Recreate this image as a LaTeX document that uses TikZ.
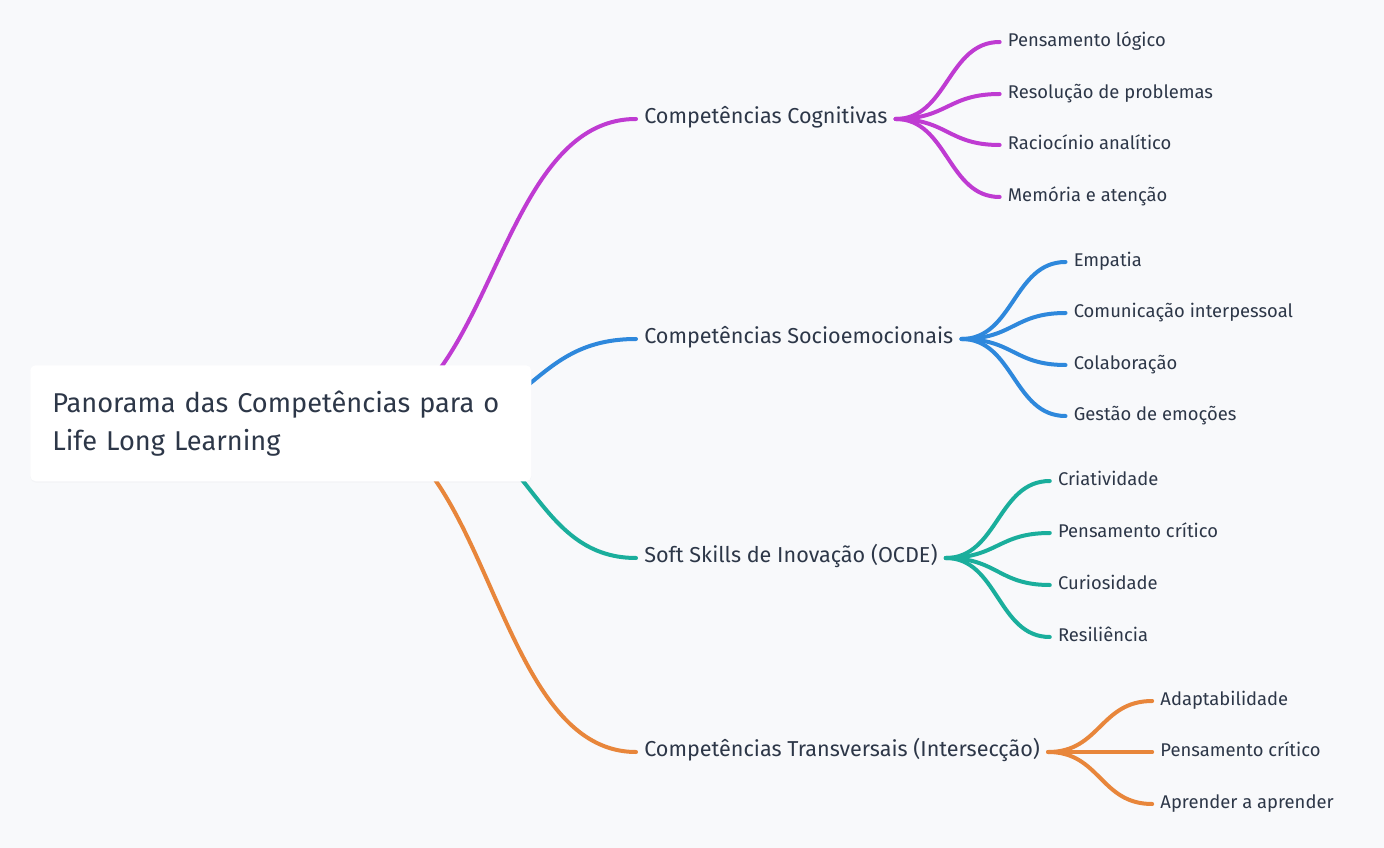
\documentclass[tikz,border=0pt]{standalone}
\usepackage{fontspec}
\setmainfont{Fira Sans}
\usetikzlibrary{shadows}
\definecolor{fundo}{HTML}{F8F9FB}
\definecolor{texto}{HTML}{2D3748}
\definecolor{roxo}{HTML}{BF3BD2}
\definecolor{azul}{HTML}{2E88DC}
\definecolor{verde}{HTML}{1AAE9C}
\definecolor{laranja}{HTML}{E8863B}
\begin{document}
\begin{tikzpicture}[x=0.75pt,y=-0.75pt,
  ramo/.style={anchor=west,inner xsep=6pt,inner ysep=0pt,text height=0.7em,text depth=0pt,
    text=texto,font=\fontsize{16.2}{19}\selectfont},
  folha/.style={ramo,font=\fontsize{13.8}{16}\selectfont},
  raiz/.style={anchor=north west,fill=white,rounded corners=4pt,text=texto,
    minimum width=375.75pt,minimum height=87pt,text width=342.75pt,align=left,
    inner xsep=16.5pt,font=\fontsize{20.4}{28.5}\selectfont,
    drop shadow={opacity=0.04,shadow xshift=0pt,shadow yshift=-1pt}},
  liga/.style={line width=3pt,line cap=round}]

\fill[fundo] (0,0) rectangle (1384,848);
\useasboundingbox (0,0) rectangle (1384,848);

%ramos
\node[ramo] (cog) at (636,119) {Competências Cognitivas};
\node[ramo] (soc) at (636,339) {Competências Socioemocionais};
\node[ramo] (inov) at (636,558) {Soft Skills de Inovação (OCDE)};
\node[ramo] (trans) at (636,752) {Competências Transversais (Intersecção)};

\coordinate (cogfan) at ([xshift=78pt]cog.east);
\coordinate (socfan) at ([xshift=78pt]soc.east);
\coordinate (inovfan) at ([xshift=78pt]inov.east);
\coordinate (transfan) at ([xshift=78pt]trans.east);

%folhas cognitivas
\node[folha] (cog1) at (cogfan |- 0,42) {Pensamento lógico};
\node[folha] (cog2) at (cogfan |- 0,94) {Resolução de problemas};
\node[folha] (cog3) at (cogfan |- 0,145) {Raciocínio analítico};
\node[folha] (cog4) at (cogfan |- 0,197) {Memória e atenção};
%folhas socioemocionais
\node[folha] (soc1) at (socfan |- 0,262) {Empatia};
\node[folha] (soc2) at (socfan |- 0,313) {Comunicação interpessoal};
\node[folha] (soc3) at (socfan |- 0,365) {Colaboração};
\node[folha] (soc4) at (socfan |- 0,416) {Gestão de emoções};
%folhas inovacao
\node[folha] (inov1) at (inovfan |- 0,481) {Criatividade};
\node[folha] (inov2) at (inovfan |- 0,533) {Pensamento crítico};
\node[folha] (inov3) at (inovfan |- 0,585) {Curiosidade};
\node[folha] (inov4) at (inovfan |- 0,637) {Resiliência};
%folhas transversais
\node[folha] (trans1) at (transfan |- 0,701) {Adaptabilidade};
\node[folha] (trans2) at (transfan |- 0,752) {Pensamento crítico};
\node[folha] (trans3) at (transfan |- 0,804) {Aprender a aprender};

\foreach \f in {cog1,cog2,cog3,cog4}
  \draw[liga,roxo] (cog.east) .. controls +(52,0) and +(-52,0) .. (\f.west);
\foreach \f in {soc1,soc2,soc3,soc4}
  \draw[liga,azul] (soc.east) .. controls +(52,0) and +(-52,0) .. (\f.west);
\foreach \f in {inov1,inov2,inov3,inov4}
  \draw[liga,verde] (inov.east) .. controls +(52,0) and +(-52,0) .. (\f.west);
\foreach \f in {trans1,trans2,trans3}
  \draw[liga,laranja] (trans.east) .. controls +(52,0) and +(-52,0) .. (\f.west);

%ligacoes da raiz
\coordinate (hubcog) at (350,423);
\coordinate (hubsoc) at (430,423);
\coordinate (hubinov) at (425,423);
\coordinate (hubtrans) at (345,423);
\draw[liga,roxo] (hubcog) .. controls +(143,0) and +(-143,0) .. (cog.west);
\draw[liga,azul] (hubsoc) .. controls +(103,0) and +(-103,0) .. (soc.west);
\draw[liga,verde] (hubinov) .. controls +(105,0) and +(-105,0) .. (inov.west);
\draw[liga,laranja] (hubtrans) .. controls +(145,0) and +(-145,0) .. (trans.west);

%raiz
\node[raiz] (raiz) at (30,365) {Panorama das Competências para o\\Life Long Learning};

\end{tikzpicture}
\end{document}
